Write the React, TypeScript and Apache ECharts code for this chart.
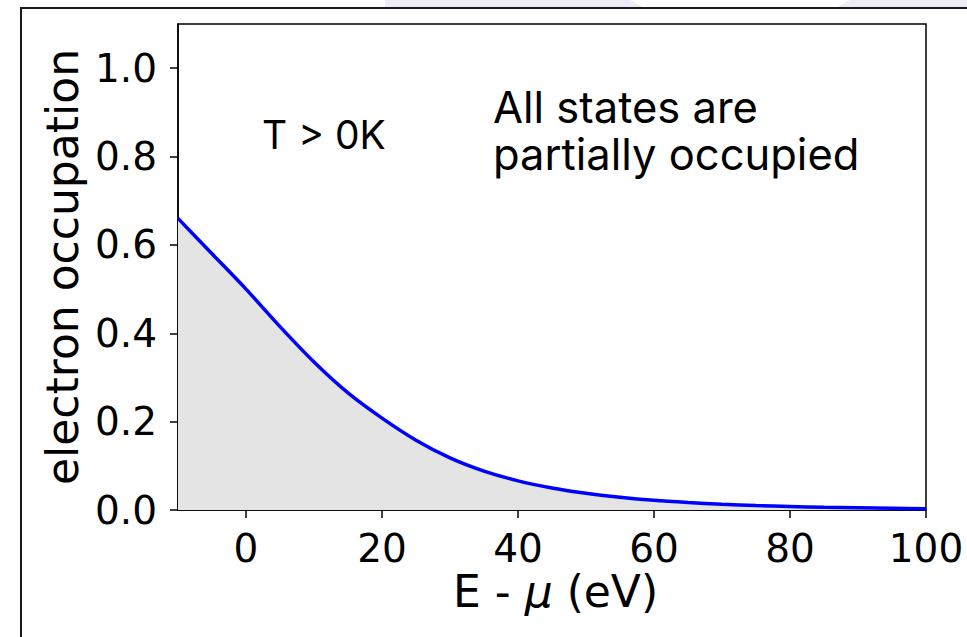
import React, { useEffect, useRef } from "react";
import * as echarts from "echarts";

const energies = [-10, -5, 0, 5, 10, 15, 20, 25, 30, 35, 40, 45, 50, 55, 60, 65, 70, 75, 80, 85, 90, 95, 100];
const occupation = [0.66, 0.58, 0.5, 0.415, 0.335, 0.265, 0.208, 0.158, 0.118, 0.088, 0.066, 0.05, 0.038, 0.029, 0.022, 0.017, 0.013, 0.01, 0.008, 0.006, 0.005, 0.004, 0.003];
const xTicks = [0, 20, 40, 60, 80, 100];
const yTicks = [0, 0.2, 0.4, 0.6, 0.8, 1.0];
const yName = "electron occupation";
const noteLeft = "T > 0K";
const noteRight = ["All states are", "partially occupied"];

export default function App() {
  const ref = useRef<HTMLDivElement>(null);
  useEffect(() => {
    if (!ref.current) return;
    const chart = echarts.init(ref.current, null, { renderer: "svg" });
    const tickFont = { fontFamily: "DejaVu Sans", fontSize: 39, color: "#000" };
    chart.setOption({
      animation: false,
      backgroundColor: "#fff",
      grid: { left: 178, top: 24, width: 748, height: 486, show: true, borderColor: "#000", borderWidth: 1.5, backgroundColor: "transparent" },
      xAxis: {
        type: "value",
        min: -10,
        max: 100,
        axisLine: { show: true, onZero: false, lineStyle: { color: "#000", width: 1.5 } },
        axisTick: { show: true, length: 8, lineStyle: { color: "#000", width: 1.5 }, customValues: xTicks },
        axisLabel: { ...tickFont, margin: 19, customValues: xTicks, formatter: (v: number) => String(v) },
        splitLine: { show: false },
      },
      yAxis: {
        type: "value",
        min: 0,
        max: 1.1,
        name: yName,
        nameLocation: "middle",
        nameGap: 81,
        nameTextStyle: { fontFamily: "DejaVu Sans", fontSize: 44, color: "#000" },
        axisLine: { show: true, onZero: false, lineStyle: { color: "#000", width: 1.5 } },
        axisTick: { show: true, length: 8, lineStyle: { color: "#000", width: 1.5 }, customValues: yTicks },
        axisLabel: { ...tickFont, margin: 21, customValues: yTicks, formatter: (v: number) => v.toFixed(1) },
        splitLine: { show: false },
      },
      series: [
        {
          type: "line",
          data: energies.map((e, i) => [e, occupation[i]]),
          smooth: 0.3,
          showSymbol: false,
          lineStyle: { color: "#0000ff", width: 3.5 },
          areaStyle: { color: "#e4e4e4", opacity: 1 },
          z: 2,
        },
      ],
      graphic: [
        { type: "rect", z: -10, silent: true, shape: { x: 385, y: 0, width: 582, height: 8 }, style: { fill: "#ececf6" } },
        { type: "polygon", z: -9, silent: true, shape: { points: [[630, 0], [850, 0], [835, 8], [645, 8]] }, style: { fill: "#ffffff" } },
        { type: "rect", z: 100, silent: true, shape: { x: 21, y: 8, width: 1000, height: 700 }, style: { fill: "none", stroke: "#1a1a1a", lineWidth: 2 } },
        {
          type: "text", z: 100, left: 453, top: 569,
          style: {
            text: "{a|E - }{b|μ}{a| (eV)}",
            rich: {
              a: { fontFamily: "DejaVu Sans", fontSize: 44, fill: "#000" },
              b: { fontFamily: "DejaVu Sans", fontSize: 44, fontStyle: "italic", fill: "#000" },
            },
          },
        },
        { type: "text", z: 100, left: 262, top: 115, style: { text: noteLeft, fontFamily: "Inter", fontSize: 39, fill: "#000" } },
        { type: "text", z: 100, left: 493, top: 84, style: { text: noteRight[0], fontFamily: "Inter", fontSize: 43.5, lineHeight: 45, fill: "#000" } },
        { type: "text", z: 100, left: 493, top: 131, style: { text: noteRight[1], fontFamily: "Inter", fontSize: 43.5, lineHeight: 45, fill: "#000" } },
      ],
    });
    return () => chart.dispose();
  }, []);
  return <div ref={ref} style={{ position: "fixed", left: 0, top: 0, width: 967, height: 637 }} />;
}
